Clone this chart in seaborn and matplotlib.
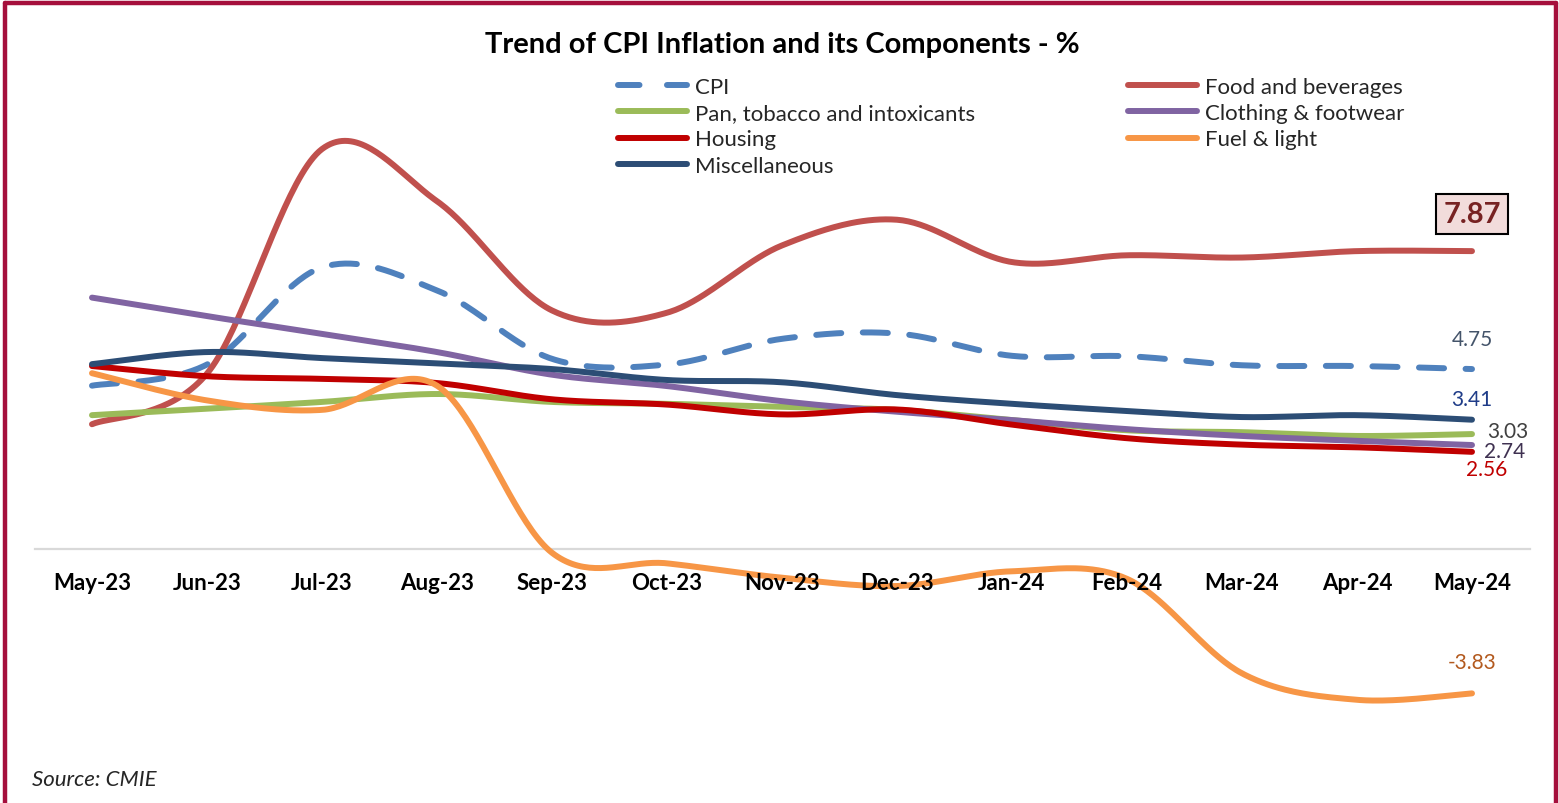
import numpy as np
import pandas as pd
import matplotlib
matplotlib.use("Agg")
import matplotlib.pyplot as plt
import seaborn as sns
from matplotlib.lines import Line2D

months = ['May-23', 'Jun-23', 'Jul-23', 'Aug-23', 'Sep-23', 'Oct-23', 'Nov-23',
          'Dec-23', 'Jan-24', 'Feb-24', 'Mar-24', 'Apr-24', 'May-24']
cpi = [4.31, 4.87, 7.44, 6.83, 5.02, 4.87, 5.55, 5.69, 5.10, 5.09, 4.85, 4.83, 4.75]
food = [3.29, 4.63, 10.57, 9.19, 6.30, 6.24, 8.02, 8.70, 7.58, 7.76, 7.70, 7.87, 7.87]
pan = [3.53, 3.70, 3.88, 4.09, 3.88, 3.83, 3.75, 3.67, 3.40, 3.13, 3.08, 2.98, 3.03]
cloth = [6.64, 6.15, 5.68, 5.20, 4.60, 4.30, 3.90, 3.62, 3.40, 3.16, 2.98, 2.85, 2.74]
housing = [4.83, 4.56, 4.49, 4.38, 3.95, 3.81, 3.55, 3.68, 3.28, 2.92, 2.75, 2.68, 2.56]
fuel = [4.64, 3.92, 3.67, 4.31, -0.11, -0.39, -0.77, -0.99, -0.60, -0.80, -3.30, -4.00, -3.83]
misc = [4.88, 5.20, 5.04, 4.90, 4.75, 4.46, 4.40, 4.06, 3.83, 3.64, 3.48, 3.53, 3.41]

series = [
    ("CPI", cpi, "#4F81BD", True),
    ("Food and beverages", food, "#C0504D", False),
    ("Pan, tobacco and intoxicants", pan, "#9BBB59", False),
    ("Clothing & footwear", cloth, "#8064A2", False),
    ("Housing", housing, "#C00000", False),
    ("Fuel & light", fuel, "#F79646", False),
    ("Miscellaneous", misc, "#2C4D75", False),
]


def smooth(xs, ys, n=40):
    P = np.column_stack([xs, ys]).astype(float)
    m = len(P)
    out = []
    for i in range(m - 1):
        p0 = P[i - 1] if i > 0 else P[i]
        p1 = P[i]
        p2 = P[i + 1]
        p3 = P[i + 2] if i + 2 < m else P[i + 1]
        c1 = p1 + (p2 - p0) / 6.0
        c2 = p2 - (p3 - p1) / 6.0
        t = np.linspace(0, 1, n, endpoint=(i == m - 2))[:, None]
        b = ((1 - t) ** 3) * p1 + 3 * ((1 - t) ** 2) * t * c1 + 3 * (1 - t) * t ** 2 * c2 + t ** 3 * p2
        out.append(b)
    out = np.vstack(out)
    return out[:, 0], out[:, 1]


sns.set_theme(style="white")
plt.rcParams['font.family'] = ['Lato', 'DejaVu Sans']

W, H = 1559, 804
fig = plt.figure(figsize=(W / 100, H / 100), dpi=100)

ax_left_px, ax_right_px = 34.5, 1529.5
ax_top_px, ax_bot_px = 60, 760
zero_px, ppu = 549.6, 37.8
ax = fig.add_axes([ax_left_px / W, 1 - ax_bot_px / H,
                   (ax_right_px - ax_left_px) / W, (ax_bot_px - ax_top_px) / H])
ax.set_xlim(-0.5, len(months) - 0.5)
ax.set_ylim((zero_px - ax_bot_px) / ppu, (zero_px - ax_top_px) / ppu)
ax.set_axisbelow(False)

xpos = np.arange(len(months))
dash = (0, (4.2, 3.6))
handles = {}
for name, vals, col, dashed in series:
    sx, sy = smooth(xpos, vals)
    df = pd.DataFrame({"x": sx, "y": sy})
    sns.lineplot(data=df, x="x", y="y", ax=ax, color=col, linewidth=4.3,
                 sort=False, estimator=None, legend=False)
    ln = ax.lines[-1]
    ln.set_solid_capstyle("round")
    if dashed:
        ln.set_linestyle(dash)
        ln.set_dash_capstyle("round")
    handles[name] = Line2D([0], [0], color=col, lw=4.3,
                           linestyle=(0, (3.6, 4.6)) if dashed else "-",
                           dash_capstyle="round", solid_capstyle="round")

ax.set_xlabel("")
ax.set_ylabel("")
ax.set_yticks([])
for s in ["left", "right", "top"]:
    ax.spines[s].set_visible(False)
ax.spines["bottom"].set_position(("data", 0))
ax.spines["bottom"].set_color("#D9D9D9")
ax.spines["bottom"].set_linewidth(1.6)
ax.spines["bottom"].set_zorder(1)
ax.set_xticks(xpos)
ax.set_xticklabels(months, fontsize=16, fontweight="bold", color="#000000")
ax.tick_params(axis="x", which="major", length=0, pad=17)
ax.set_xticks(np.arange(-0.5, len(months), 1.0), minor=True)
ax.tick_params(axis="x", which="minor", length=6, width=1.6, color="#D9D9D9", direction="out")
ax.xaxis.set_zorder(5)

order = ["CPI", "Pan, tobacco and intoxicants", "Housing", "Miscellaneous",
         "Food and beverages", "Clothing & footwear", "Fuel & light"]
leg = fig.legend([handles[k] for k in order], order, ncol=2, loc="upper left",
                 bbox_to_anchor=(618 / W, 1 - 78 / H), frameon=False,
                 fontsize=16, handlelength=3.1, handletextpad=0.35,
                 columnspacing=6.9, labelspacing=0.28, borderaxespad=0,
                 borderpad=0)


def px2data(px, py):
    return ((px - 92) / 115.0, (zero_px - py) / ppu)


labels = [
    (1472, 340, "4.75", "#44546A"),
    (1472, 400, "3.41", "#1F3C88"),
    (1508, 432, "3.03", "#404040"),
    (1505, 452, "2.74", "#3F3151"),
    (1487, 470, "2.56", "#C00000"),
    (1472, 663, "-3.83", "#B35A1F"),
]
for px, py, t, c in labels:
    x, y = px2data(px, py)
    ax.text(x, y, t, ha="center", va="center", fontsize=15, color=c, clip_on=False)

x, y = px2data(1472, 215)
ax.text(x, y, "7.87", ha="center", va="center", fontsize=21, fontweight="bold",
        color="#772222",
        bbox=dict(boxstyle="square,pad=0.25", facecolor="#F2DCDB", edgecolor="#000000", linewidth=1.5))

fig.text(782 / W, 1 - 45 / H, "Trend of CPI Inflation and its Components - %",
         ha="center", va="center", fontsize=21, fontweight="bold", color="#000000")
fig.text(32 / W, 1 - 780 / H, "Source: CMIE", ha="left", va="center",
         fontsize=16, fontstyle="italic", color="#262626")

bc = "#A50F3C"
fig.add_artist(Line2D([5 / W, 5 / W], [0, 1 - 4 / H], color=bc, lw=3.2, transform=fig.transFigure))
fig.add_artist(Line2D([5 / W, 1556 / W], [1 - 4 / H, 1 - 4 / H], color=bc, lw=3.2, transform=fig.transFigure))
fig.add_artist(Line2D([1556 / W, 1556 / W], [0, 1 - 4 / H], color=bc, lw=3.2, transform=fig.transFigure))

fig.savefig("out.png", dpi=100)
